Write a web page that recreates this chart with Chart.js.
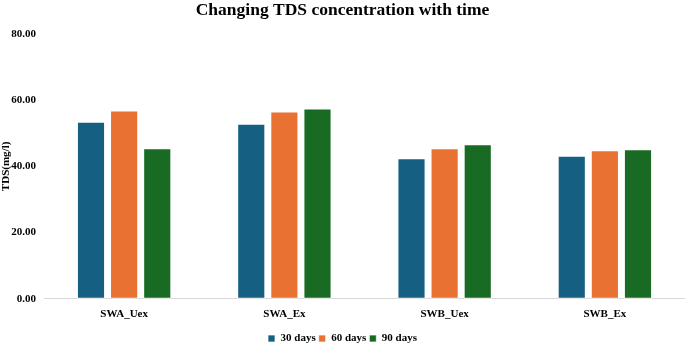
<!DOCTYPE html>
<html>

<head>
  <title>Changing TDS concentration with time</title>
  <script src="https://cdn.jsdelivr.net/npm/chart.js"></script>
</head>

<body style="margin: 0; background-color: #ffffff;">
  <!-- Chart Container -->
  <div id="chartContainer" style="width: 685px; height: 344px;">
    <canvas id="tdsChart"></canvas>
  </div>

  <script>
    // Data
    const samples = ["SWA_Uex", "SWA_Ex", "SWB_Uex", "SWB_Ex"];
    const days30 = [53.5, 52.9, 42.5, 43.2];
    const days60 = [56.9, 56.6, 45.5, 44.9];
    const days90 = [45.5, 57.5, 46.7, 45.2];
    const yTicks = [0, 20, 40, 60, 80];

    const serif = "'Liberation Serif', 'Times New Roman', serif";

    function makeSet(label, values, color) {
      return {
        label: label,
        data: values,
        backgroundColor: color,
        borderColor: "rgba(255, 255, 255, 0.7)",
        borderWidth: 1,
        borderSkipped: false,
        categoryPercentage: 0.62,
        barPercentage: 0.85,
      };
    }

    const ctx = document.getElementById("tdsChart").getContext("2d");
    const tdsChart = new Chart(ctx, {
      type: "bar",
      data: {
        labels: samples,
        datasets: [
          makeSet("30 days", days30, "#156082"),
          makeSet("60 days", days60, "#E97132"),
          makeSet("90 days", days90, "#196B24"),
        ],
      },
      options: {
        responsive: true,
        maintainAspectRatio: false,
        animation: false,
        layout: {
          padding: { left: 0, right: 0, top: 0, bottom: -10 },
        },
        plugins: {
          title: {
            display: true,
            text: "Changing TDS concentration with time",
            color: "#000",
            font: { family: serif, size: 17.5, weight: "bold" },
            padding: { top: 0, bottom: 13 },
          },
          legend: {
            position: "bottom",
            labels: {
              color: "#000",
              boxWidth: 7,
              boxHeight: 7,
              padding: 3,
              font: { family: serif, size: 11, weight: "bold" },
            },
          },
          tooltip: { enabled: false },
        },
        scales: {
          x: {
            grid: { display: false, drawTicks: false },
            border: { color: "#d9d9d9", width: 1 },
            ticks: {
              color: "#000",
              padding: 9,
              font: { family: serif, size: 11, weight: "bold" },
            },
          },
          y: {
            min: yTicks[0],
            max: yTicks[yTicks.length - 1],
            grid: { display: false, drawTicks: false },
            border: { display: false },
            afterBuildTicks: function (axis) {
              axis.ticks = yTicks.map((v) => ({ value: v }));
            },
            afterFit: function (axis) {
              axis.width = 44;
            },
            ticks: {
              color: "#000",
              padding: 8,
              font: { family: serif, size: 11, weight: "bold" },
              callback: function (value) {
                return Number(value).toFixed(2);
              },
            },
            title: {
              display: true,
              text: "TDS(mg/l)",
              color: "#000",
              padding: 0,
              font: { family: serif, size: 11, weight: "bold" },
            },
          },
        },
      },
    });
  </script>
</body>

</html>
